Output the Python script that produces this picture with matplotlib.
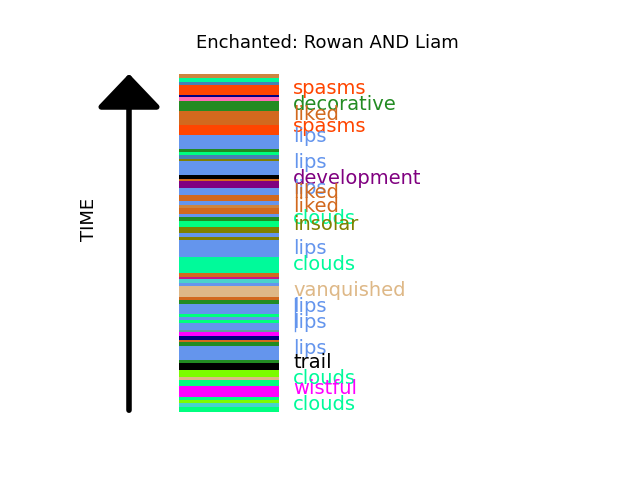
import matplotlib
matplotlib.use('Agg')
import matplotlib.pyplot as plt

# bands from top (start of time) to bottom
band_colors = ['peru', 'mediumspringgreen', 'steelblue', 'orangered', 'navy', 'hotpink',
               'forestgreen', 'chocolate', 'orangered', 'cornflowerblue', 'forestgreen',
               'springgreen', 'steelblue', 'olive', 'cornflowerblue', 'black', 'chocolate',
               'purple', 'cornflowerblue', 'chocolate', 'cornflowerblue', 'peru', 'chocolate',
               'cornflowerblue', 'forestgreen', 'springgreen', 'olive', 'cornflowerblue',
               'olive', 'cornflowerblue', 'mediumspringgreen', 'chocolate', 'mediumvioletred',
               'mediumturquoise', 'cornflowerblue', 'burlywood', 'chocolate', 'forestgreen',
               'cornflowerblue', 'springgreen', 'cornflowerblue', 'springgreen',
               'cornflowerblue', 'cadetblue', 'magenta', 'navy', 'chocolate', 'forestgreen',
               'cornflowerblue', 'forestgreen', 'black', 'lawngreen', 'lawngreen', 'burlywood',
               'springgreen', 'magenta', 'springgreen', 'lawngreen', 'mediumturquoise',
               'springgreen']
band_sizes = [4, 4, 3, 10, 2, 4, 10, 14, 10, 14, 3, 3, 4, 2, 14, 4, 2, 7, 7, 6, 4, 3, 6,
              3, 4, 6, 6, 4, 3, 17, 16, 4, 2, 4, 3, 11, 3, 4, 10, 3, 3, 3, 7, 2, 4, 4, 2, 4,
              14, 3, 7, 3, 4, 3, 6, 11, 3, 3, 4, 5]

labels = ['spasms', 'decorative', 'liked', 'spasms', 'lips', 'lips', 'development', 'lips',
          'liked', 'liked', 'clouds', 'insolar', 'lips', 'clouds', 'vanquished', 'lips',
          'lips', 'lips', 'trail', 'clouds', 'wistful', 'clouds']
label_colors = ['orangered', 'forestgreen', 'chocolate', 'orangered', 'cornflowerblue',
                'cornflowerblue', 'purple', 'cornflowerblue', 'chocolate', 'chocolate',
                'mediumspringgreen', 'olive', 'cornflowerblue', 'mediumspringgreen',
                'burlywood', 'cornflowerblue', 'cornflowerblue', 'cornflowerblue', 'black',
                'mediumspringgreen', 'magenta', 'mediumspringgreen']
label_times = [14, 30, 41, 53, 63, 89, 105, 115, 119, 133, 145, 151, 174, 190, 216, 233,
               249, 275, 288, 304, 315, 331]

t0 = 74
fig = plt.figure(figsize=(6.4, 4.8), dpi=100)
ax = fig.add_axes([0, 0, 1, 1])
ax.set_xlim(0, 640)
ax.set_ylim(480 - t0, -t0)
ax.axis('off')

start = 0
for c, s in zip(band_colors, band_sizes):
    ax.bar(228.5, s, width=100, bottom=start, color=c, align='center')
    start += s

for lab, c, t in zip(labels, label_colors, label_times):
    ax.text(293, t, lab, color=c, fontsize=14, va='center', ha='left')

# thin connector between the two stacked "lips"
ax.plot([295, 295], [label_times[15] - 9, label_times[16] + 8], color='cornflowerblue', lw=1)

ax.annotate('', xy=(129, -3), xytext=(129, start + 1),
            arrowprops=dict(arrowstyle='-|>,head_width=2.0,head_length=2.1',
                            color='black', lw=4))
ax.text(89, 145, 'TIME', rotation=90, fontsize=13, va='center', ha='center')
ax.text(327, -31, 'Enchanted: Rowan AND Liam', fontsize=13, ha='center', va='center')

fig.savefig('out.png', dpi=100)
